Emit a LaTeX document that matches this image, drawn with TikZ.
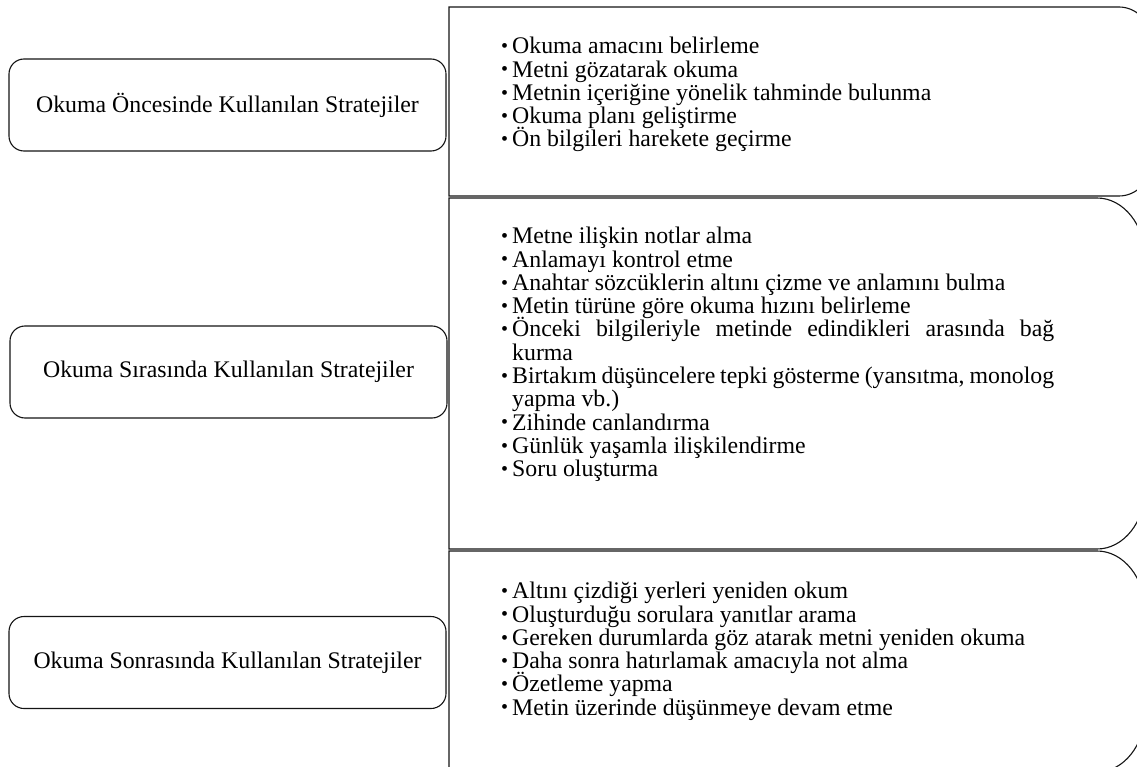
\documentclass[tikz,border=0pt]{standalone}
\usepackage{fontspec}
\setmainfont{Liberation Serif}
\usetikzlibrary{positioning}
\definecolor{lineblack}{RGB}{20,20,20}
\tikzset{
  stagebox/.style={
    rectangle,
    rounded corners=15pt,
    draw=lineblack,
    line width=1.1pt,
    align=center,
    minimum width=437pt,
    minimum height=92pt,
    font=\fontsize{23.8}{23.3}\selectfont
  },
  listframe/.style={draw=lineblack, line width=1.1pt},
  itemlist/.style={
    anchor=north west,
    inner sep=0pt,
    text width=553pt,
    align=justify,
    font=\fontsize{23.8}{23.3}\selectfont
  }
}
\newcommand{\blt}[1]{\hyphenpenalty=10000\relax\lineskiplimit=-20pt\relax
  \hangindent=11pt\hangafter=1\noindent
  \makebox[11pt][l]{\raisebox{1.3pt}{\fontsize{20}{20}\selectfont •}}#1\par}

\begin{document}
\begin{tikzpicture}[x=1pt, y=-1pt]
  \useasboundingbox (0,0) rectangle (1137,767);
  \clip (0,0) rectangle (1137,767);

  % stages on the left
  \node[stagebox] (before) at (227.5,105) {Okuma Öncesinde Kullanılan Stratejiler};
  \node[stagebox] (during) at (228.5,372) {Okuma Sırasında Kullanılan Stratejiler};
  \node[stagebox] (after) at (227.5,662.5) {Okuma Sonrasında Kullanılan Stratejiler};

  % frames on the right
  \draw[listframe] (449,196) -- (449,7) -- (1119,7)
    .. controls (1136,7) and (1150,21) .. (1150,38) -- (1150,165)
    .. controls (1150,182) and (1136,196) .. (1119,196) -- cycle;
  \draw[listframe] (449,549) -- (449,198) -- (1097,198)
    .. controls (1123.5,198) and (1145,225) .. (1145,258) -- (1145,489)
    .. controls (1145,522) and (1123.5,549) .. (1097,549) -- cycle;
  \draw[listframe] (449,772) -- (449,551) -- (1097,551)
    .. controls (1123.5,551) and (1145,578) .. (1145,611) -- (1145,712)
    .. controls (1145,745) and (1123.5,772) .. (1097,772) -- cycle;

  % strategy lists
  \node[itemlist] (beforelist) at (501,37) {%
    \blt{Okuma amacını belirleme}
    \blt{Metni gözatarak okuma}
    \blt{Metnin içeriğine yönelik tahminde bulunma}
    \blt{Okuma planı geliştirme}
    \blt{Ön bilgileri harekete geçirme}};
  \node[itemlist] (duringlist) at (501,227) {%
    \blt{Metne ilişkin notlar alma}
    \blt{Anlamayı kontrol etme}
    \blt{Anahtar sözcüklerin altını çizme ve anlamını bulma}
    \blt{Metin türüne göre okuma hızını belirleme}
    \blt{Önceki bilgileriyle metinde edindikleri arasında bağ\linebreak kurma}
    \blt{Birtakım düşüncelere tepki gösterme (yansıtma, monolog\linebreak yapma vb.)}
    \blt{Zihinde canlandırma}
    \blt{Günlük yaşamla ilişkilendirme}
    \blt{Soru oluşturma}};
  \node[itemlist] (afterlist) at (501,582) {%
    \blt{Altını çizdiği yerleri yeniden okum}
    \blt{Oluşturduğu sorulara yanıtlar arama}
    \blt{Gereken durumlarda göz atarak metni yeniden okuma}
    \blt{Daha sonra hatırlamak amacıyla not alma}
    \blt{Özetleme yapma}
    \blt{Metin üzerinde düşünmeye devam etme}};
\end{tikzpicture}
\end{document}
